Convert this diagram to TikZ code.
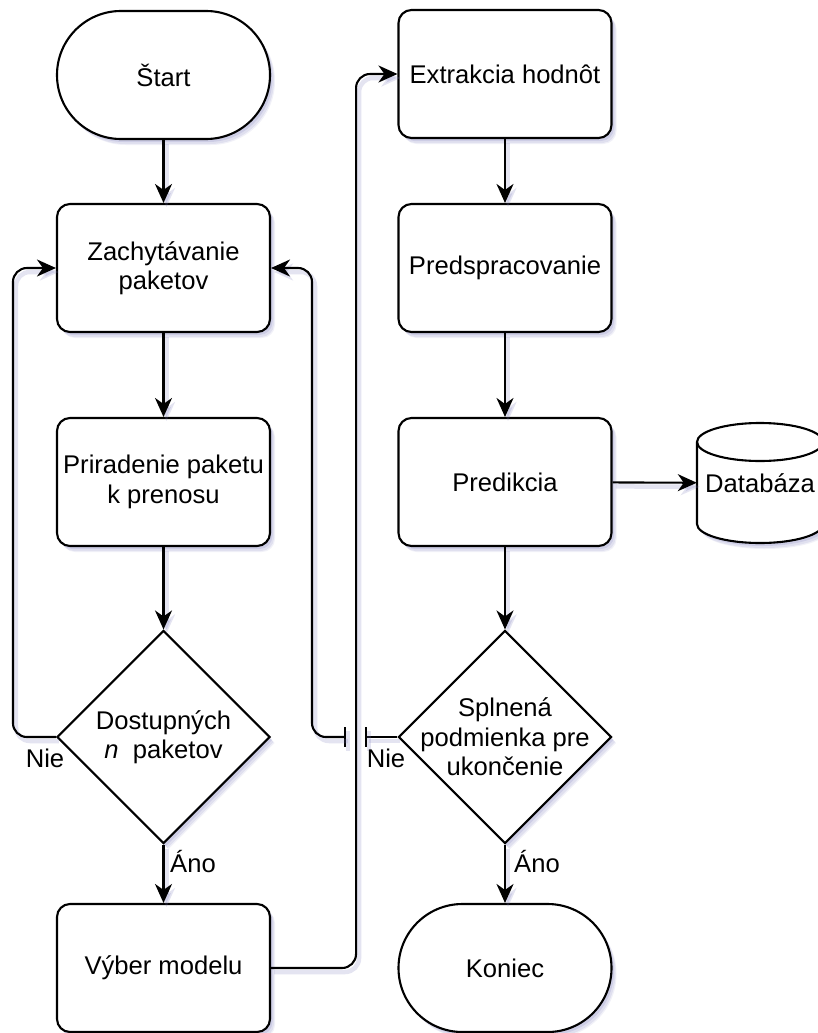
\documentclass[tikz,border=0pt]{standalone}
\usepackage{fontspec}
\setmainfont{Liberation Sans}
\usetikzlibrary{arrows.meta,shapes.geometric,shadows}
\definecolor{shade}{RGB}{120,120,185}
\tikzset{
  x=1pt, y=1pt,
  txt/.style={font=\fontsize{25.6}{29.5}\selectfont, align=center},
  softshadow/.style={
    drop shadow={shadow xshift=5pt, shadow yshift=-6pt, fill=shade, opacity=0.10},
    drop shadow={shadow xshift=4pt, shadow yshift=-5pt, fill=shade, opacity=0.14},
    drop shadow={shadow xshift=2.5pt, shadow yshift=-3pt, fill=shade, opacity=0.18}},
  base/.style={draw=black, line width=2.1pt, fill=white, softshadow},
  proc/.style={base, txt, rounded corners=13pt, minimum width=213pt, minimum height=128pt, inner sep=0pt},
  term/.style={base, txt, rounded corners=63.9pt, minimum width=213pt, minimum height=128pt, inner sep=0pt},
  decision/.style={base, diamond, minimum width=213pt, minimum height=213pt, inner sep=0pt},
  plain/.style={draw=black, line width=2.1pt, rounded corners=14pt,
    preaction={draw=shade, line width=4.5pt, opacity=0.2,
      transform canvas={shift={(3pt,-4pt)}}}},
  flow/.style={plain, -{Stealth[length=19pt,width=17pt,inset=6pt]}},
  lbl/.style={txt, inner sep=0pt}
}
\begin{document}
\begin{tikzpicture}
\useasboundingbox (0,0) rectangle (818,-1033);

% left column
\node[term] (start) at (163.5,-75) {Štart};
\node[proc] (cap) at (163.5,-268) {Zachytávanie\\paketov};
\node[proc] (assign) at (163.5,-482) {Priradenie paketu\\k prenosu};
\node[decision] (avail) at (163.5,-737) {};
\node[txt] (availtxt) at (avail) {Dostupných\\\textit{n}\ \ paketov};
\node[proc] (model) at (163.5,-968) {Výber modelu};

% right column
\node[proc] (extract) at (505,-74) {Extrakcia hodnôt};
\node[proc] (prep) at (505,-268) {Predspracovanie};
\node[proc] (pred) at (505,-482) {Predikcia};
\node[decision] (cond) at (505,-737) {};
\node[txt] (condtxt) at (cond) {Splnená\\podmienka pre\\ukončenie};
\node[term] (end) at (505,-968) {Koniec};

% database cylinder
\path[base] (697,-442) -- (697,-524)
  arc[start angle=180, end angle=360, x radius=63, y radius=19]
  -- (823,-442)
  arc[start angle=0, end angle=180, x radius=63, y radius=19] -- cycle;
\draw[line width=2.1pt] (697,-442) arc[start angle=180, end angle=360, x radius=63, y radius=19];
\node[txt, minimum width=126pt, minimum height=120pt, inner sep=0pt] (db) at (760,-483) {Databáza};

% main flow
\draw[flow] (start) -- (cap);
\draw[flow] (cap) -- (assign);
\draw[flow] (assign) -- (avail);
\draw[flow] (avail) -- (model);
\draw[flow] (extract) -- (prep);
\draw[flow] (prep) -- (pred);
\draw[flow] (pred) -- (cond);
\draw[flow] (cond) -- (end);
\draw[flow] (pred) -- (db);

% loops and cross-over
\draw[flow] (avail.west) -- ++(-43,0) |- (cap.west);
\draw[flow] (model.east) -- ++(85,0) |- (extract.west);

\coordinate (jumpR) at (366,-737);
\coordinate (jumpL) at (345,-737);
\draw[plain] (cond.west) -- (jumpR);
\draw[plain] (jumpR) ++(0,10) -- ++(0,-20);
\draw[plain] (jumpL) ++(0,10) -- ++(0,-20);
\draw[flow] (jumpL) -- ++(-33,0) |- (cap.east);

% branch labels
\node[lbl] (no1) at (45,-758) {Nie};
\node[lbl] (yes1) at (193,-862) {Áno};
\node[lbl] (no2) at (386,-758) {Nie};
\node[lbl] (yes2) at (537,-862) {Áno};
\end{tikzpicture}
\end{document}
